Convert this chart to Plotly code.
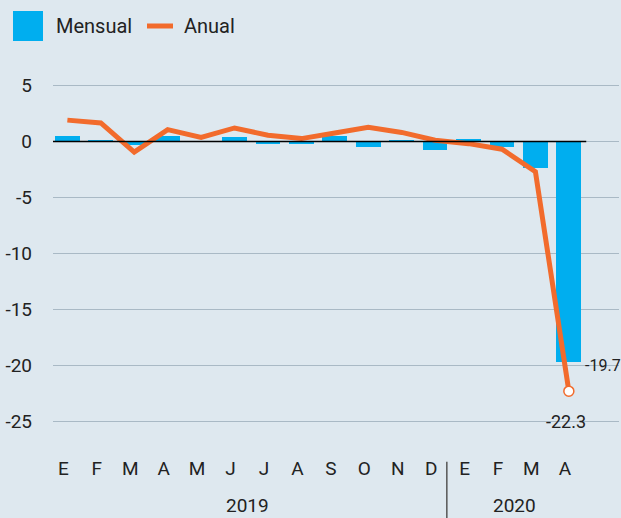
import plotly.graph_objects as go

# ---- data ----
months = ["E", "F", "M", "A", "M", "J", "J", "A", "S", "O", "N", "D", "E", "F", "M", "A"]
years = ["2019", "2020"]
mensual = [0.45, 0.1, -0.3, 0.5, 0.0, 0.35, -0.25, -0.25, 0.45, -0.5, 0.1, -0.75, 0.2, -0.5, -2.4, -19.7]
anual = [1.9, 1.65, -0.95, 1.05, 0.35, 1.2, 0.55, 0.25, 0.75, 1.25, 0.8, 0.1, -0.2, -0.7, -2.7, -22.3]
y_ticks = [5, 0, -5, -10, -15, -20, -25]
y_ticktext = ["5", "0", "-5", "-10", "-15", "-20", "-25"]
series_names = ["Mensual", "Anual"]

# ---- style ----
W, H = 621, 518
ML, MR, MT, MB = 53, 2, 63, 63
PW, PH = W - ML - MR, H - MT - MB
BG = "#dee8ef"
BLUE = "#00aeef"
ORANGE = "#f26b2c"
GRID = "#a9b9c5"
TXT = "#222222"
FONT = "Roboto, sans-serif"

def px_x(p):
    return (p - ML) / PW

def px_y(p):
    return (H - MB - p) / PH

xs = list(range(len(months)))

fig = go.Figure()
fig.add_trace(go.Bar(x=xs, y=mensual, marker=dict(color=BLUE, line=dict(width=0)),
                     width=0.74, name=series_names[0], showlegend=False))
fig.add_trace(go.Scatter(x=xs, y=anual, mode="lines",
                         line=dict(color=ORANGE, width=5), name=series_names[1],
                         showlegend=False))
fig.add_trace(go.Scatter(x=[xs[-1]], y=[anual[-1]], mode="markers",
                         marker=dict(color="white", size=10, line=dict(color=ORANGE, width=1.5)),
                         showlegend=False, hoverinfo="skip"))

shapes = [
    # zero line
    dict(type="line", xref="x", yref="y", x0=-0.43, x1=len(months) - 0.48, y0=0, y1=0,
         line=dict(color="black", width=1.5), layer="above"),
    # year separator
    dict(type="line", xref="x", yref="paper", x0=11.35, x1=11.35,
         y0=px_y(518), y1=px_y(461.7), line=dict(color="#555555", width=1.5)),
    # legend swatches
    dict(type="rect", xref="paper", yref="paper", x0=px_x(13), x1=px_x(43),
         y0=px_y(41), y1=px_y(11), fillcolor=BLUE, line=dict(width=0)),
    dict(type="line", xref="paper", yref="paper", x0=px_x(147), x1=px_x(173),
         y0=px_y(26), y1=px_y(26), line=dict(color=ORANGE, width=5)),
]

annotations = [
    dict(text=series_names[0], xref="paper", yref="paper", x=px_x(54), y=px_y(26),
         xanchor="left", yanchor="middle", showarrow=False, font=dict(size=20, color=TXT)),
    dict(text=series_names[1], xref="paper", yref="paper", x=px_x(182), y=px_y(26),
         xanchor="left", yanchor="middle", showarrow=False, font=dict(size=20, color=TXT)),
    dict(text="%.1f" % mensual[-1], xref="x", yref="y", x=xs[-1], y=mensual[-1],
         xanchor="left", yanchor="middle", xshift=14, yshift=-3, showarrow=False,
         font=dict(size=16, color=TXT)),
    dict(text="%.1f" % anual[-1], xref="x", yref="y", x=xs[-1], y=anual[-1],
         xanchor="center", yanchor="middle", xshift=-3, yshift=-30, showarrow=False,
         font=dict(size=18, color=TXT)),
    dict(text=years[0], xref="x", yref="paper", x=5.5, y=px_y(505), xshift=-4,
         xanchor="center", yanchor="middle", showarrow=False, font=dict(size=19, color=TXT)),
    dict(text=years[1], xref="x", yref="paper", x=13.5, y=px_y(505), xshift=-4,
         xanchor="center", yanchor="middle", showarrow=False, font=dict(size=19, color=TXT)),
]

fig.update_layout(
    width=W, height=H,
    margin=dict(l=ML, r=MR, t=MT, b=MB, pad=0),
    paper_bgcolor=BG, plot_bgcolor=BG,
    font=dict(family=FONT, size=19, color=TXT),
    showlegend=False,
    bargap=0,
    shapes=shapes,
    annotations=annotations,
    xaxis=dict(range=[-0.43, 16.5], tickmode="array", tickvals=xs, ticktext=months,
               showgrid=False, zeroline=False, showline=False, ticks="",
               ticklabelshift=-4, ticklabelstandoff=0, fixedrange=True),
    yaxis=dict(range=[-28, 7], tickmode="array", tickvals=y_ticks, ticktext=y_ticktext,
               showgrid=True, gridcolor=GRID, gridwidth=1, zeroline=False, showline=False,
               ticks="", ticklabelstandoff=20, fixedrange=True),
)

fig.write_html("out.html", config={"displayModeBar": False},
               post_script="document.body.style.margin='0';document.body.style.overflow='hidden';")
